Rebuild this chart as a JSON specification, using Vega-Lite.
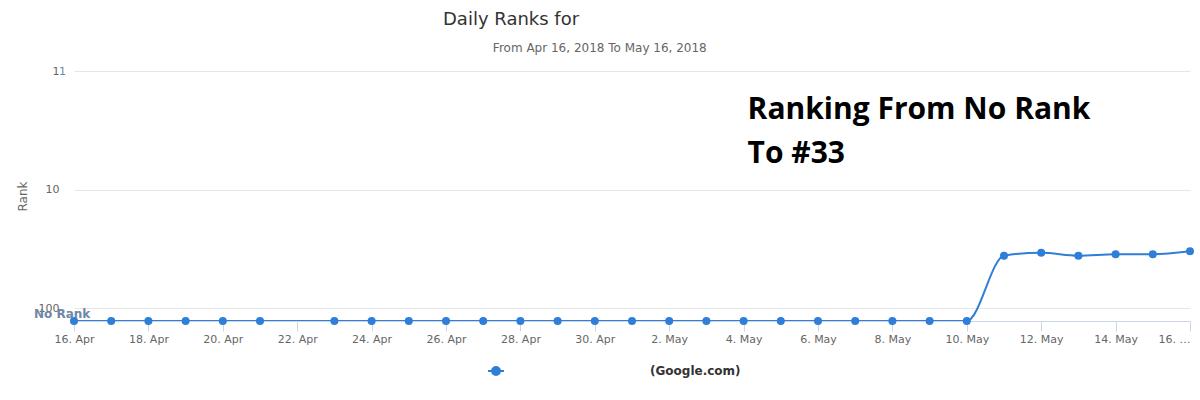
{
  "$schema": "https://vega.github.io/schema/vega-lite/v6.json",
  "autosize": "none",
  "width": 1116,
  "height": 250,
  "padding": {"left": 74, "top": 71, "right": 10, "bottom": 79},
  "background": "white",
  "config": {
    "font": "DejaVu Sans",
    "view": {"stroke": null}
  },
  "title": {
    "text": "Daily Ranks for",
    "anchor": "start",
    "frame": "group",
    "dx": 369,
    "offset": -5,
    "fontSize": 18,
    "fontWeight": "normal",
    "color": "#333333",
    "font": "DejaVu Sans",
    "baseline": "bottom"
  },
  "datasets": {
    "ranks": [
      {"date": "2018-04-16", "rank": 128, "series": "(Google.com)"},
      {"date": "2018-04-17", "rank": 128, "series": "(Google.com)"},
      {"date": "2018-04-18", "rank": 128, "series": "(Google.com)"},
      {"date": "2018-04-19", "rank": 128, "series": "(Google.com)"},
      {"date": "2018-04-20", "rank": 128, "series": "(Google.com)"},
      {"date": "2018-04-21", "rank": 128, "series": "(Google.com)"},
      {"date": "2018-04-23", "rank": 128, "series": "(Google.com)"},
      {"date": "2018-04-24", "rank": 128, "series": "(Google.com)"},
      {"date": "2018-04-25", "rank": 128, "series": "(Google.com)"},
      {"date": "2018-04-26", "rank": 128, "series": "(Google.com)"},
      {"date": "2018-04-27", "rank": 128, "series": "(Google.com)"},
      {"date": "2018-04-28", "rank": 128, "series": "(Google.com)"},
      {"date": "2018-04-29", "rank": 128, "series": "(Google.com)"},
      {"date": "2018-04-30", "rank": 128, "series": "(Google.com)"},
      {"date": "2018-05-01", "rank": 128, "series": "(Google.com)"},
      {"date": "2018-05-02", "rank": 128, "series": "(Google.com)"},
      {"date": "2018-05-03", "rank": 128, "series": "(Google.com)"},
      {"date": "2018-05-04", "rank": 128, "series": "(Google.com)"},
      {"date": "2018-05-05", "rank": 128, "series": "(Google.com)"},
      {"date": "2018-05-06", "rank": 128, "series": "(Google.com)"},
      {"date": "2018-05-07", "rank": 128, "series": "(Google.com)"},
      {"date": "2018-05-08", "rank": 128, "series": "(Google.com)"},
      {"date": "2018-05-09", "rank": 128, "series": "(Google.com)"},
      {"date": "2018-05-10", "rank": 128, "series": "(Google.com)"},
      {"date": "2018-05-11", "rank": 36, "series": "(Google.com)"},
      {"date": "2018-05-12", "rank": 34, "series": "(Google.com)"},
      {"date": "2018-05-13", "rank": 36, "series": "(Google.com)"},
      {"date": "2018-05-14", "rank": 35, "series": "(Google.com)"},
      {"date": "2018-05-15", "rank": 35, "series": "(Google.com)"},
      {"date": "2018-05-16", "rank": 33, "series": "(Google.com)"}
    ],
    "norank": [{"date": "2018-04-16", "rank": 128, "label": "No Rank"}],
    "one": [{"date": "2018-04-16", "rank": 1, "label": "1"}],
    "note": [{"date": "2018-05-04", "rank": 1, "label": "Ranking From No Rank\nTo #33"}],
    "sub": [{"date": "2018-04-30", "rank": 1, "label": "From Apr 16, 2018 To May 16, 2018"}]
  },
  "layer": [
    {
      "data": {"name": "ranks"},
      "mark": {"type": "line", "interpolate": "monotone", "strokeWidth": 2, "clip": true},
      "encoding": {
        "x": {
          "field": "date", "type": "temporal",
          "scale": {"type": "utc", "domain": [{"year": 2018, "month": 4, "date": 16, "utc": true}, {"year": 2018, "month": 5, "date": 16, "utc": true}]},
          "axis": {
            "title": null,
            "grid": false,
            "values": [
              {"year": 2018, "month": 4, "date": 16, "utc": true},
              {"year": 2018, "month": 4, "date": 18, "utc": true},
              {"year": 2018, "month": 4, "date": 20, "utc": true},
              {"year": 2018, "month": 4, "date": 22, "utc": true},
              {"year": 2018, "month": 4, "date": 24, "utc": true},
              {"year": 2018, "month": 4, "date": 26, "utc": true},
              {"year": 2018, "month": 4, "date": 28, "utc": true},
              {"year": 2018, "month": 4, "date": 30, "utc": true},
              {"year": 2018, "month": 5, "date": 2, "utc": true},
              {"year": 2018, "month": 5, "date": 4, "utc": true},
              {"year": 2018, "month": 5, "date": 6, "utc": true},
              {"year": 2018, "month": 5, "date": 8, "utc": true},
              {"year": 2018, "month": 5, "date": 10, "utc": true},
              {"year": 2018, "month": 5, "date": 12, "utc": true},
              {"year": 2018, "month": 5, "date": 14, "utc": true},
              {"year": 2018, "month": 5, "date": 16, "utc": true}
            ],
            "labelExpr": "utcFormat(datum.value, '%m-%d') == '05-16' ? '16. …' : utcFormat(datum.value, '%-d. %b')",
            "labelAlign": {"condition": {"test": "utcFormat(datum.value, '%m-%d') == '05-16'", "value": "right"}, "value": "center"},
            "domainColor": "#ccd6eb",
            "domainWidth": 1,
            "tickColor": "#ccd6eb",
            "tickSize": 10,
            "labelColor": "#666666",
            "labelFontSize": 11,
            "labelFont": "DejaVu Sans",
            "labelPadding": 2,
            "labelOverlap": false,
            "labelFlush": false
          }
        },
        "y": {
          "field": "rank", "type": "quantitative",
          "scale": {"type": "log", "domain": [1, 128], "reverse": true, "nice": false},
          "axis": {
            "title": "Rank",
            "values": [1, 10, 100],
            "format": "d",
            "domain": false,
            "ticks": false,
            "grid": true,
            "gridColor": "#e6e6e6",
            "labelColor": "#666666",
            "labelFontSize": 11,
            "labelFont": "DejaVu Sans",
            "labelPadding": 15,
            "titleColor": "#666666",
            "titleFontSize": 12,
            "titleFontWeight": "normal",
            "titleFont": "DejaVu Sans",
            "titlePadding": 9
          }
        },
        "color": {
          "field": "series", "type": "nominal",
          "scale": {"range": ["#2f7ed8"]},
          "legend": {
            "title": null,
            "orient": "none",
            "legendX": 413,
            "legendY": 291,
            "symbolType": "M-1,0L1,0M-0.5,0A0.5,0.5,0,1,0,0.5,0A0.5,0.5,0,1,0,-0.5,0Z",
            "symbolSize": 256,
            "symbolStrokeWidth": 2,
            "symbolFillColor": "#2f7ed8",
            "symbolStrokeColor": "#2f7ed8",
            "labelOffset": 145,
            "labelFont": "DejaVu Sans",
            "labelFontSize": 12,
            "labelFontWeight": "bold",
            "labelColor": "#333333"
          }
        }
      }
    },
    {
      "data": {"name": "ranks"},
      "mark": {"type": "point", "filled": true, "size": 64, "opacity": 1},
      "encoding": {
        "x": {"field": "date", "type": "temporal"},
        "y": {"field": "rank", "type": "quantitative"},
        "color": {"field": "series", "type": "nominal"}
      }
    },
    {
      "data": {"name": "norank"},
      "mark": {"type": "text", "align": "left", "baseline": "alphabetic", "dx": -40, "dy": -3, "font": "DejaVu Sans", "fontSize": 12, "fontWeight": "bold", "color": "#6d87a6"},
      "encoding": {
        "x": {"field": "date", "type": "temporal"},
        "y": {"field": "rank", "type": "quantitative"},
        "text": {"field": "label"}
      }
    },
    {
      "data": {"name": "one"},
      "mark": {"type": "text", "align": "left", "baseline": "middle", "dx": -15, "dy": 1, "font": "DejaVu Sans", "fontSize": 11, "color": "#6d87a6"},
      "encoding": {
        "x": {"field": "date", "type": "temporal"},
        "y": {"field": "rank", "type": "quantitative"},
        "text": {"field": "label"}
      }
    },
    {
      "data": {"name": "note"},
      "mark": {"type": "text", "align": "left", "baseline": "alphabetic", "dx": 4, "dy": 48, "lineBreak": "\n", "lineHeight": 44, "font": "Open Sans", "fontSize": 30, "fontWeight": "bold", "color": "#000000"},
      "encoding": {
        "x": {"field": "date", "type": "temporal"},
        "y": {"field": "rank", "type": "quantitative"},
        "text": {"field": "label"}
      }
    },
    {
      "data": {"name": "sub"},
      "mark": {"type": "text", "align": "center", "baseline": "alphabetic", "dx": 5, "dy": -19, "font": "DejaVu Sans", "fontSize": 12, "color": "#666666"},
      "encoding": {
        "x": {"field": "date", "type": "temporal"},
        "y": {"field": "rank", "type": "quantitative"},
        "text": {"field": "label"}
      }
    }
  ]
}
